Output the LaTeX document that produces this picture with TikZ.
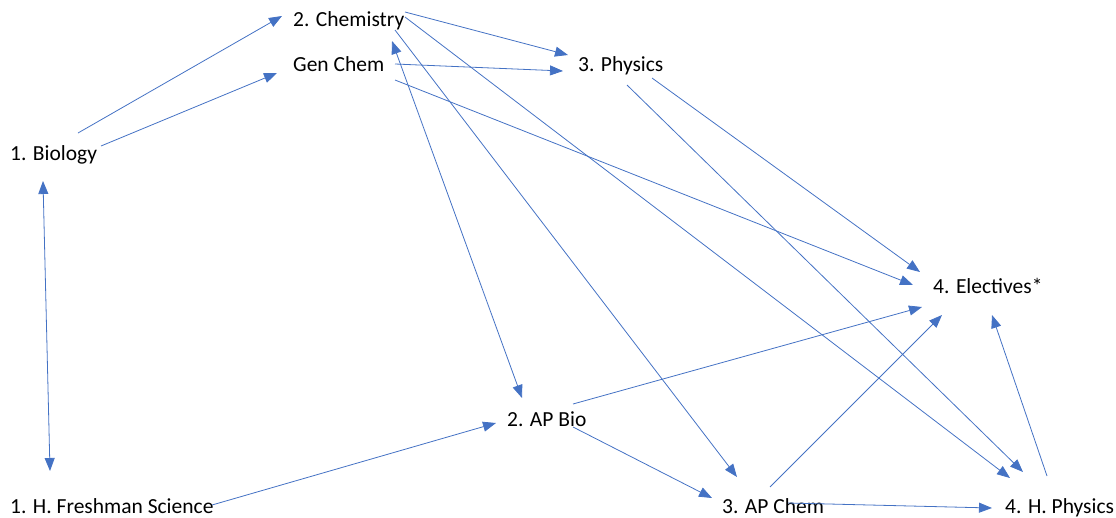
\documentclass[tikz,border=0pt]{standalone}
\usepackage{fontspec}
\setmainfont{Carlito}
\usetikzlibrary{arrows.meta}
\definecolor{edgeblue}{HTML}{4472C4}
\begin{document}
\begin{tikzpicture}[x=1pt,y=-1pt,
  course/.style={anchor=base west,inner sep=0pt,font=\fontsize{21.5}{26}\selectfont},
  link/.style={draw=edgeblue,line width=0.8pt,-{Triangle[length=13pt,width=10pt]}},
  link2/.style={draw=edgeblue,line width=0.8pt,{Triangle[length=13pt,width=10pt]}-{Triangle[length=13pt,width=10pt]}}]
\useasboundingbox (0,0) rectangle (1116,517);
\node[course] (chem) at (293,26) {2. Chemistry};
\node[course] (gen) at (293,71) {Gen Chem};
\node[course] (bio) at (10,160) {1. Biology};
\node[course] (phys) at (578,71) {3. Physics};
\node[course] (elec) at (933,293) {4. Electives*};
\node[course] (apbio) at (507,426) {2. AP Bio};
\node[course] (fresh) at (10,513) {1. H. Freshman Science};
\node[course] (apchem) at (722,513) {3. AP Chem};
\node[course] (hphys) at (1005,513) {4. H. Physics};
% edges
\draw[link] ([shift={(68,-27)}]bio.base west) -- ([shift={(-11,-10)}]chem.base west);
\draw[link] ([shift={(91,-14)}]bio.base west) -- ([shift={(-16,2)}]gen.base west);
\draw[link2] ([shift={(33,21)}]bio.base west) -- ([shift={(40,-42)}]fresh.base west);
\draw[link] ([shift={(202,-8)}]fresh.base west) -- ([shift={(-11,-3)}]apbio.base west);
\draw[link] ([shift={(112,-14)}]chem.base west) -- ([shift={(-10,-16)}]phys.base west);
\draw[link] ([shift={(102,-7)}]gen.base west) -- ([shift={(-15,0)}]phys.base west);
\draw[link] ([shift={(102,9)}]gen.base west) -- ([shift={(-20,-8)}]elec.base west);
\draw[link] ([shift={(74,7)}]phys.base west) -- ([shift={(-13,-21)}]elec.base west);
\draw[link] ([shift={(49,14)}]phys.base west) -- ([shift={(18,-41)}]hphys.base west);
\draw[link] ([shift={(112,-9)}]chem.base west) -- ([shift={(5,-35)}]hphys.base west);
\draw[link] ([shift={(102,4)}]chem.base west) -- ([shift={(15,-36)}]apchem.base west);
\draw[link2] ([shift={(99,15)}]chem.base west) -- ([shift={(15,-28)}]apbio.base west);
\draw[link] ([shift={(66,-22)}]apbio.base west) -- ([shift={(-11,14)}]elec.base west);
\draw[link] ([shift={(66,1)}]apbio.base west) -- ([shift={(-10,-15)}]apchem.base west);
\draw[link] ([shift={(48,-26)}]apchem.base west) -- ([shift={(9,22)}]elec.base west);
\draw[link] ([shift={(66,-10)}]apchem.base west) -- ([shift={(-13,-5)}]hphys.base west);
\draw[link] ([shift={(42,-37)}]hphys.base west) -- ([shift={(59,22)}]elec.base west);
\end{tikzpicture}
\end{document}
